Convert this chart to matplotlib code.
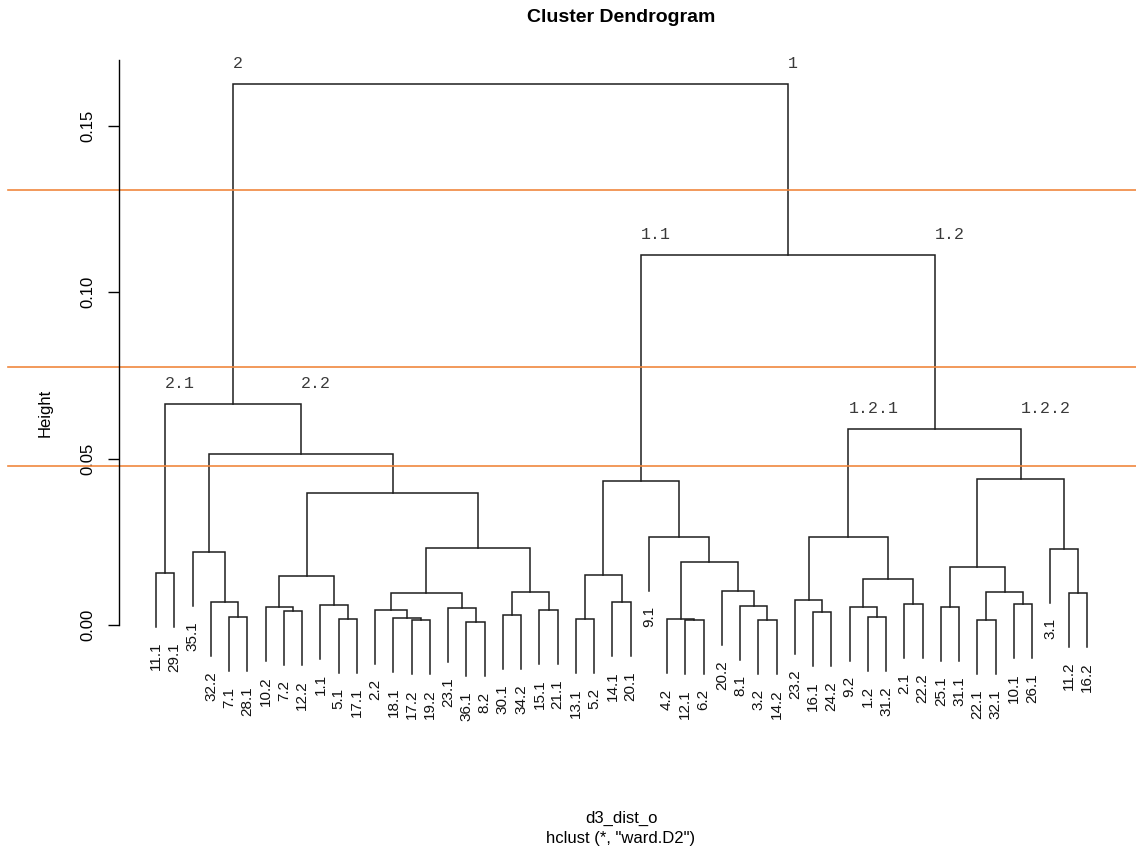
"""Cluster dendrogram (hclust ward.D2 on d3_dist_o) with three cut heights."""
import matplotlib
matplotlib.use("Agg")
import matplotlib.pyplot as plt

plt.rcParams["font.family"] = ["Liberation Sans", "DejaVu Sans"]

# leaf order as drawn, left to right
leaf_labels = [
    "11.1", "29.1", "35.1", "32.2", "7.1", "28.1", "10.2", "7.2", "12.2", "1.1",
    "5.1", "17.1", "2.2", "18.1", "17.2", "19.2", "23.1", "36.1", "8.2", "30.1",
    "34.2", "15.1", "21.1", "13.1", "5.2", "14.1", "20.1", "9.1", "4.2", "12.1",
    "6.2", "20.2", "8.1", "3.2", "14.2", "23.2", "16.1", "24.2", "9.2", "1.2",
    "31.2", "2.1", "22.2", "25.1", "31.1", "22.1", "32.1", "10.1", "26.1", "3.1",
    "11.2", "16.2",
]

# merges: (node name, left child, right child, height); children are leaf labels or node names
merges = [
    ("c21", "11.1", "29.1", 0.0157),
    ("n1", "7.1", "28.1", 0.0023),
    ("n2", "32.2", "n1", 0.0068),
    ("n3", "35.1", "n2", 0.0220),
    ("n4", "7.2", "12.2", 0.0042),
    ("n5", "10.2", "n4", 0.0053),
    ("n6", "5.1", "17.1", 0.0019),
    ("n7", "1.1", "n6", 0.0061),
    ("n8", "n5", "n7", 0.0146),
    ("n9", "17.2", "19.2", 0.0015),
    ("n10", "18.1", "n9", 0.0022),
    ("n11", "2.2", "n10", 0.0045),
    ("n12", "36.1", "8.2", 0.0008),
    ("n13", "23.1", "n12", 0.0052),
    ("n14", "n11", "n13", 0.0095),
    ("n15", "30.1", "34.2", 0.0030),
    ("n16", "15.1", "21.1", 0.0045),
    ("n17", "n15", "n16", 0.0098),
    ("n18", "n14", "n17", 0.0233),
    ("n19", "n8", "n18", 0.0396),
    ("c22", "n3", "n19", 0.0514),
    ("c2", "c21", "c22", 0.0664),
    ("r1", "13.1", "5.2", 0.0018),
    ("r2", "14.1", "20.1", 0.0070),
    ("r3", "r1", "r2", 0.0150),
    ("r4", "12.1", "6.2", 0.0015),
    ("r5", "4.2", "r4", 0.0017),
    ("r6", "3.2", "14.2", 0.0015),
    ("r7", "8.1", "r6", 0.0057),
    ("r8", "20.2", "r7", 0.0102),
    ("r9", "r5", "r8", 0.0190),
    ("r10", "9.1", "r9", 0.0265),
    ("c11", "r3", "r10", 0.0433),
    ("r11", "16.1", "24.2", 0.0039),
    ("r12", "23.2", "r11", 0.0075),
    ("r13", "1.2", "31.2", 0.0025),
    ("r14", "9.2", "r13", 0.0055),
    ("r15", "2.1", "22.2", 0.0064),
    ("r16", "r14", "r15", 0.0138),
    ("c121", "r12", "r16", 0.0265),
    ("r17", "25.1", "31.1", 0.0055),
    ("r18", "22.1", "32.1", 0.0015),
    ("r19", "10.1", "26.1", 0.0064),
    ("r20", "r18", "r19", 0.0098),
    ("r21", "r17", "r20", 0.0175),
    ("r22", "11.2", "16.2", 0.0097),
    ("r23", "3.1", "r22", 0.0228),
    ("c122", "r21", "r23", 0.0440),
    ("c12", "c121", "c122", 0.0589),
    ("c1", "c11", "c12", 0.1112),
    ("root", "c2", "c1", 0.1626),
]

cluster_names = {
    "c2": "2", "c1": "1", "c11": "1.1", "c12": "1.2",
    "c21": "2.1", "c22": "2.2", "c121": "1.2.1", "c122": "1.2.2",
}

cut_heights = [0.1307, 0.0775, 0.0479]

HANG = 0.1
TREE_COLOR = "#1e1e1e"
CUT_COLOR = "#f0883e"

heights = [h for _, _, _, h in merges]
hang = HANG * (max(heights) - min(heights))

xpos = {label: i + 1 for i, label in enumerate(leaf_labels)}
ypos = {}
parent_height = {}
for name, left, right, h in merges:
    xpos[name] = (xpos[left] + xpos[right]) / 2
    ypos[name] = h
    parent_height[left] = h
    parent_height[right] = h

fig = plt.figure(figsize=(11.36, 8.52), dpi=100)
ax = fig.add_axes([119 / 1136, 1 - 700 / 852, 1005 / 1136, 640 / 852])

for name, left, right, h in merges:
    yl = ypos.get(left, h - hang)
    yr = ypos.get(right, h - hang)
    ax.plot([xpos[left], xpos[left], xpos[right], xpos[right]], [yl, h, h, yr],
            color=TREE_COLOR, lw=1.1, solid_joinstyle="miter")

for label in leaf_labels:
    ax.annotate(label, (xpos[label], parent_height[label] - hang), xytext=(0, -11),
                textcoords="offset points", rotation=90, ha="center", va="top",
                fontsize=11, color="#111111")

for node, text in cluster_names.items():
    ax.annotate(text, (xpos[node], parent_height[node]), xytext=(0, 11.5),
                textcoords="offset points", ha="left", va="baseline",
                fontsize=12, family="Liberation Mono", color="#3a3a3a")

n = len(leaf_labels)
lo = min(parent_height[label] for label in leaf_labels) - hang
hi = max(heights)
ax.set_xlim(1 - 0.04 * (n - 1), n + 0.04 * (n - 1))
ax.set_ylim(lo - 0.04 * (hi - lo), hi + 0.04 * (hi - lo))

# cut lines run across the whole figure width
x0, x1 = ax.get_xlim()
for cut in cut_heights:
    ax.plot([x0 - (x1 - x0) * 111 / 1005, x1 + (x1 - x0) * 12 / 1005], [cut, cut],
            color=CUT_COLOR, lw=1.2, clip_on=False)

for side in ("top", "right", "bottom"):
    ax.spines[side].set_visible(False)
ax.spines["left"].set_bounds(0, ax.get_ylim()[1])
ax.spines["left"].set_linewidth(1.0)
ax.set_xticks([])
ax.set_yticks([0, 0.05, 0.10, 0.15])
ax.set_yticklabels(["0.00", "0.05", "0.10", "0.15"], rotation=90, va="center", fontsize=12)
ax.tick_params(axis="y", length=8, width=1.0, pad=9)

fig.text(621 / 1136, 1 - 17 / 852, "Cluster Dendrogram", ha="center", va="center",
         fontsize=14, fontweight="bold")
fig.text(45 / 1136, 1 - 413 / 852, "Height", rotation=90, ha="center", va="center", fontsize=12)
fig.text(621 / 1136, 1 - 818 / 852, "d3_dist_o", ha="center", va="center", fontsize=12)
fig.text(621 / 1136, 1 - 838 / 852, 'hclust (*, "ward.D2")', ha="center", va="center", fontsize=12)

fig.savefig("out.png", dpi=100)
